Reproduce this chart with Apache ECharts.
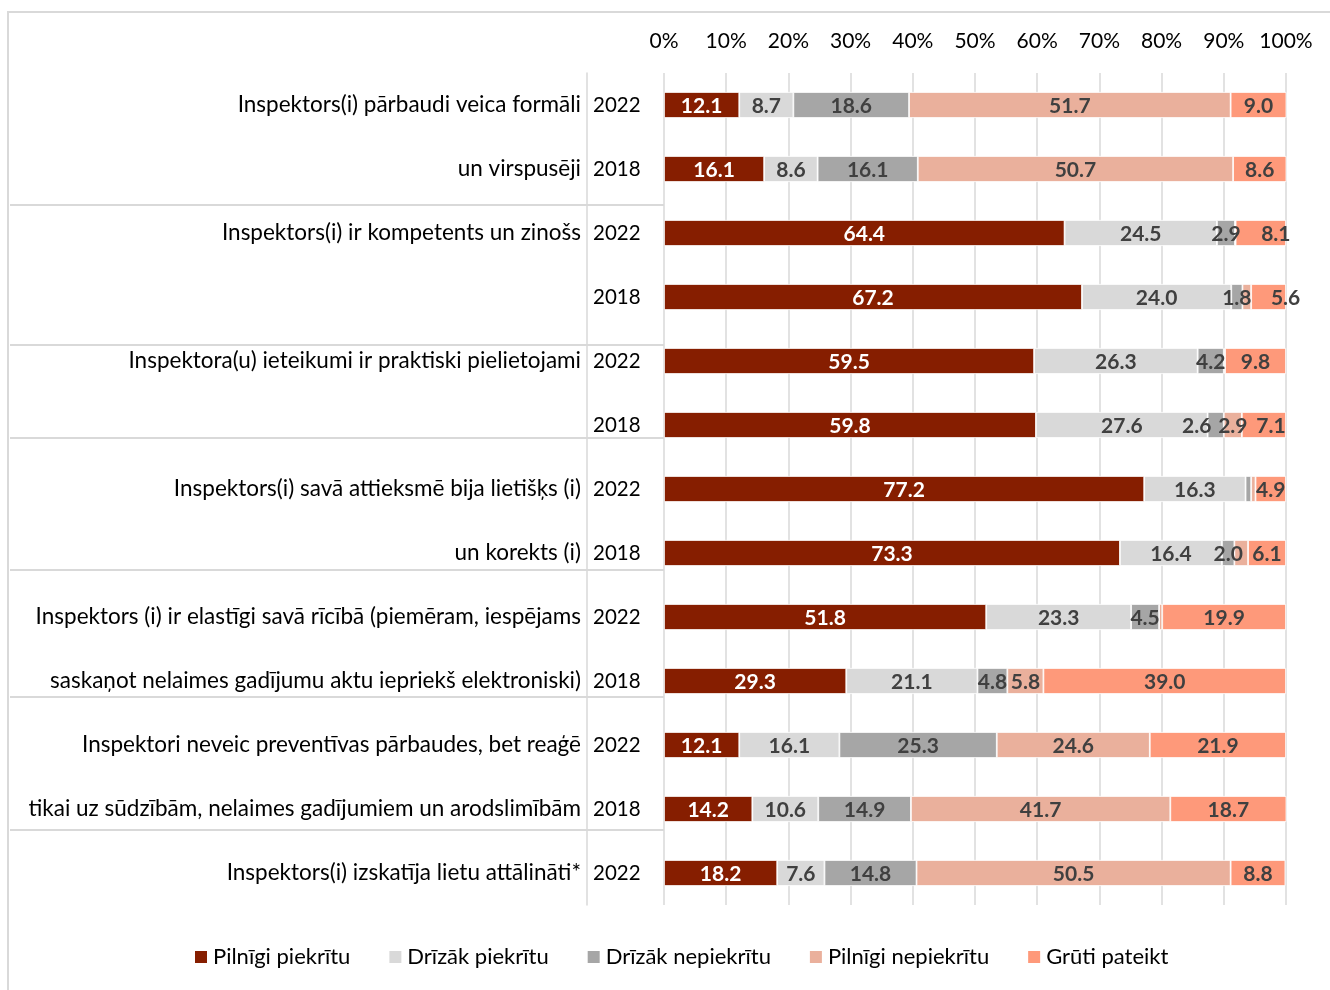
<!DOCTYPE html>
<html>
<head>
<meta charset="utf-8">
<script src="https://cdn.jsdelivr.net/npm/echarts@6/dist/echarts.min.js"></script>
<style>
html,body{margin:0;padding:0;background:#fff;}
#main{width:1330px;height:990px;}
</style>
</head>
<body>
<div id="main"></div>
<script>
// ---- Data ----
const groupLines = [
  ["Inspektors(i) pārbaudi veica formāli", "un virspusēji"],
  ["Inspektors(i) ir kompetents un zinošs", ""],
  ["Inspektora(u) ieteikumi ir praktiski pielietojami", ""],
  ["Inspektors(i) savā attieksmē bija lietišķs (i)", "un korekts (i)"],
  ["Inspektors (i) ir elastīgi savā rīcībā (piemēram, iespējams", "saskaņot nelaimes gadījumu aktu iepriekš elektroniski)"],
  ["Inspektori neveic preventīvas pārbaudes, bet reaģē", "tikai uz sūdzībām, nelaimes gadījumiem un arodslimībām"],
  ["Inspektors(i) izskatīja lietu attālināti*"]
];
const groupYears = [
  ["2022", "2018"], ["2022", "2018"], ["2022", "2018"], ["2022", "2018"],
  ["2022", "2018"], ["2022", "2018"], ["2022"]
];
const seriesNames = ["Pilnīgi piekrītu", "Drīzāk piekrītu", "Drīzāk nepiekrītu", "Pilnīgi nepiekrītu", "Grūti pateikt"];
const pilnigiPiekritu   = [12.1, 16.1, 64.4, 67.2, 59.5, 59.8, 77.2, 73.3, 51.8, 29.3, 12.1, 14.2, 18.2];
const drizakPiekritu    = [8.7, 8.6, 24.5, 24.0, 26.3, 27.6, 16.3, 16.4, 23.3, 21.1, 16.1, 10.6, 7.6];
const drizakNepiekritu  = [18.6, 16.1, 2.9, 1.8, 4.2, 2.6, 0.9, 2.0, 4.5, 4.8, 25.3, 14.9, 14.8];
const pilnigiNepiekritu = [51.7, 50.7, 0.1, 1.4, 0.2, 2.9, 0.7, 2.2, 0.5, 5.8, 24.6, 41.7, 50.5];
const grutiPateikt      = [9.0, 8.6, 8.1, 5.6, 9.8, 7.1, 4.9, 6.1, 19.9, 39.0, 21.9, 18.7, 8.8];
// [row, series] values with no printed label in the source
const unlabeled = [[2,3],[3,3],[4,3],[6,2],[6,3],[7,3],[8,3]];
const xTicks = [0, 10, 20, 30, 40, 50, 60, 70, 80, 90, 100];

// ---- Layout tweaks (not data) ----
// labels moved sideways in the source to avoid overlap: [row, series, dx px]
const labelNudges = [[2,4,15],[3,4,17],[5,2,-19],[5,4,7]];
// group separator lines shifted from band boundaries (px), as in the source
const separatorShift = [4, 16, -19, -15, -16, -11];

// ---- Build rows ----
const rowKeys = [], rowYear = [], rowText = [], groupLastRow = [];
groupYears.forEach((yrs, g) => {
  yrs.forEach((y, i) => {
    rowKeys.push('r' + rowKeys.length);
    rowYear.push(y);
    rowText.push(groupLines[g][i] || '');
  });
  groupLastRow.push(rowKeys.length - 1);
});
const allValues = [pilnigiPiekritu, drizakPiekritu, drizakNepiekritu, pilnigiNepiekritu, grutiPateikt];
const colors = ['#861E00', '#D9D9D9', '#A6A6A6', '#EAB09C', '#FE997A'];
const FONT = 'Lato';

const chart = echarts.init(document.getElementById('main'));
const series = allValues.map((vals, s) => ({
  name: seriesNames[s],
  type: 'bar',
  stack: 'total',
  barWidth: 26,
  yAxisIndex: 0,
  itemStyle: { color: colors[s], borderColor: '#fff', borderWidth: 0.8 },
  label: {
    show: true,
    position: 'inside',
    fontFamily: FONT,
    fontSize: 21,
    fontWeight: 'bold',
    color: s === 0 ? '#ffffff' : '#404040',
    offset: [0, 1],
    formatter: p => unlabeled.some(u => u[0] === p.dataIndex && u[1] === s) ? '' : p.value.toFixed(1)
  },
  data: vals.map((v, r) => {
    const n = labelNudges.find(u => u[0] === r && u[1] === s);
    return n ? { value: v, label: { offset: [n[2], 1] } } : v;
  })
}));

chart.setOption({
  animation: false,
  textStyle: { fontFamily: FONT },
  grid: { left: 664, right: 44, top: 73, bottom: 85 },
  xAxis: {
    type: 'value', position: 'top', min: 0, max: 100, interval: 10,
    axisLine: { show: false }, axisTick: { show: false },
    axisLabel: { formatter: v => xTicks.includes(v) ? v + '%' : '', fontSize: 21, color: '#000', margin: 21, fontFamily: FONT },
    splitLine: { show: true, lineStyle: { color: '#D9D9D9', width: 1.5 } }
  },
  yAxis: [
    {
      type: 'category', inverse: true, position: 'left', data: rowKeys,
      axisLine: { show: false }, axisTick: { show: false },
      axisLabel: { formatter: (v, i) => rowYear[i], align: 'left', margin: 71, fontSize: 20.5, color: '#000', fontFamily: FONT }
    },
    {
      type: 'category', inverse: true, position: 'left', offset: 77, data: rowKeys,
      axisLine: { show: true, lineStyle: { color: '#D9D9D9', width: 1.5 } }, axisTick: { show: false },
      axisLabel: { formatter: (v, i) => rowText[i], align: 'right', margin: 6, fontSize: 22.5, color: '#000', fontFamily: FONT, interval: 0 }
    }
  ],
  legend: {
    bottom: 17, left: 188, icon: 'rect', itemWidth: 14, itemHeight: 14, itemGap: 37,
    textStyle: { fontSize: 22, color: '#000', fontFamily: FONT },
    data: seriesNames
  },
  series: series
});

// separators between groups and outer frame
const gfx = [{
  type: 'rect', shape: { x: 8, y: 12, width: 1340, height: 1000 },
  style: { fill: 'none', stroke: '#D9D9D9', lineWidth: 2 }, silent: true
}];
const xRight = chart.convertToPixel({ xAxisIndex: 0 }, 0);
groupLastRow.slice(0, -1).forEach((r, k) => {
  const y1 = chart.convertToPixel({ yAxisIndex: 0 }, rowKeys[r]);
  const y2 = chart.convertToPixel({ yAxisIndex: 0 }, rowKeys[r + 1]);
  const y = (y1 + y2) / 2 + separatorShift[k];
  gfx.push({ type: 'line', shape: { x1: 10, y1: y, x2: xRight, y2: y }, style: { stroke: '#D9D9D9', lineWidth: 2 }, silent: true });
});
chart.setOption({ graphic: gfx });
</script>
</body>
</html>
